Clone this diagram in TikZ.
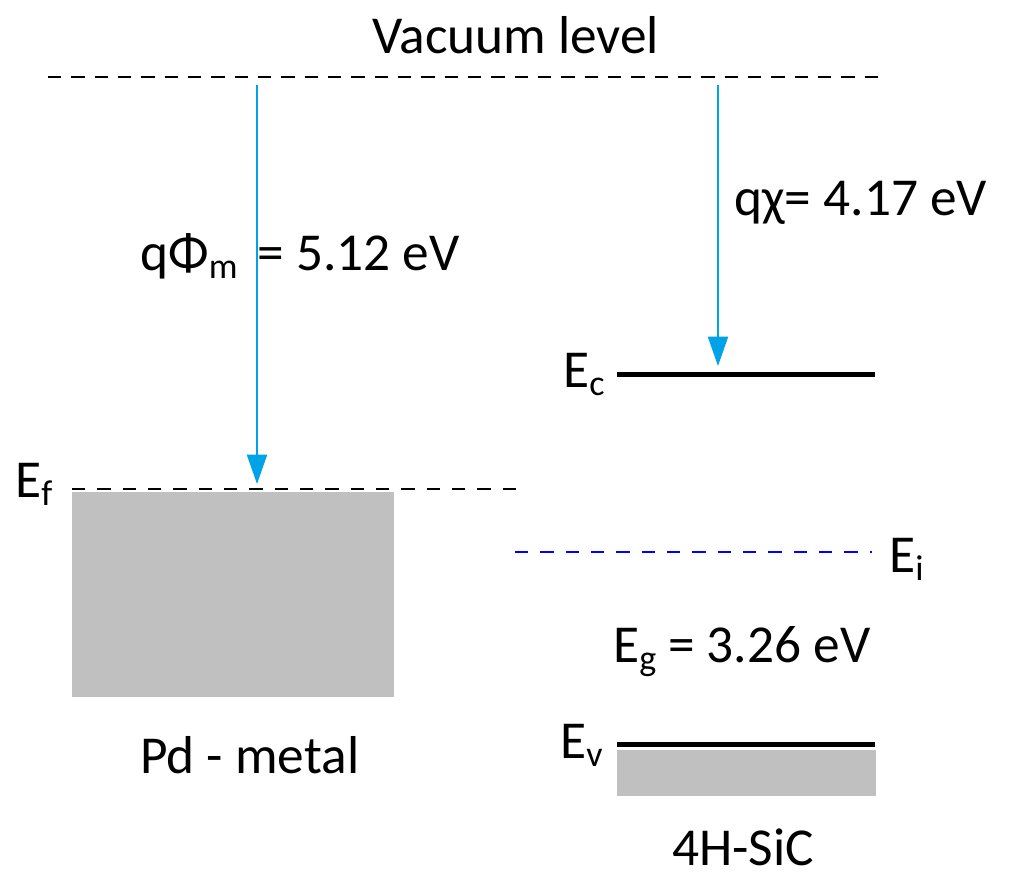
\documentclass[tikz,border=0pt]{standalone}
\usepackage{fontspec}
\setmainfont{Carlito}
\usetikzlibrary{arrows.meta,positioning}

\definecolor{arrowblue}{RGB}{0,162,232}
\definecolor{bandgray}{RGB}{192,192,192}
\newcommand{\lowidx}[1]{\raisebox{-6pt}{\fontsize{27}{27}\selectfont #1}}

\begin{document}
\begin{tikzpicture}[x=0.75pt,y=-0.75pt,
    every node/.style={inner sep=0,font=\fontsize{40}{46}\selectfont},
    txt/.style={anchor=base west},
    bandedge/.style={line width=3.75pt},
    dashlevel/.style={dash pattern=on 10pt off 7.5pt,line width=2.2pt},
    fermi/.style={dash pattern=on 10pt off 9pt,line width=1.4pt},
    band/.style={fill=bandgray,draw=none},
    workfn/.style={arrowblue,line width=1.5pt,-{Triangle[width=15pt,length=22pt]}}]

\useasboundingbox (0,0) rectangle (1024,886);

% vacuum level
\coordinate (vac-l) at (48,77);
\coordinate (vac-r) at (880,77);
\draw [dashlevel] (vac-l) -- (vac-r);
\node [txt] (vac) at (372,53) {Vacuum level};

% metal side
\node [band, minimum width=241.5pt, minimum height=153.75pt, anchor=north west] (metal) at (72,492) {};
\coordinate (ef-l) at (72,489);
\coordinate (ef-r) at (525,489);
\draw [fermi] (ef-l) -- (ef-r);
\node [txt] (ef) at (15,497) {E\lowidx{f}};
\node [txt] (pd) at (140,773) {Pd - metal};

\coordinate (phi-top) at (257,85);
\coordinate (phi-tip) at (257,484);
\draw [workfn] (phi-top) -- (phi-tip);
\node [txt] (phi) at (140,270) {qΦ\lowidx{m}\hspace{15pt}= 5.12 eV};

% semiconductor side
\coordinate (ec-l) at (617,374);
\coordinate (ec-r) at (875,374);
\draw [bandedge] (ec-l) -- (ec-r);
\node [txt] (ec) at (563,387) {E\lowidx{c}};

\coordinate (chi-top) at (718,85);
\coordinate (chi-tip) at (718,366);
\draw [workfn] (chi-top) -- (chi-tip);
\node [txt] (chi) at (734,215) {qχ= 4.17 eV};

\coordinate (ei-l) at (515,552);
\coordinate (ei-r) at (872,552);
\draw [fermi, blue] (ei-l) -- (ei-r);
\node [txt] (ei) at (889,572) {E\lowidx{i}};

\node [txt] (eg) at (613,662) {E\lowidx{g} = 3.26 eV};

\coordinate (ev-l) at (617,744);
\coordinate (ev-r) at (875,744);
\draw [bandedge] (ev-l) -- (ev-r);
\node [band, minimum width=194.25pt, minimum height=34.5pt, anchor=north west] (valence) at (617,750) {};
\node [txt] (ev) at (560,758) {E\lowidx{v}};
\node [txt] (sic) at (672,865) {4H-SiC};

\end{tikzpicture}
\end{document}
